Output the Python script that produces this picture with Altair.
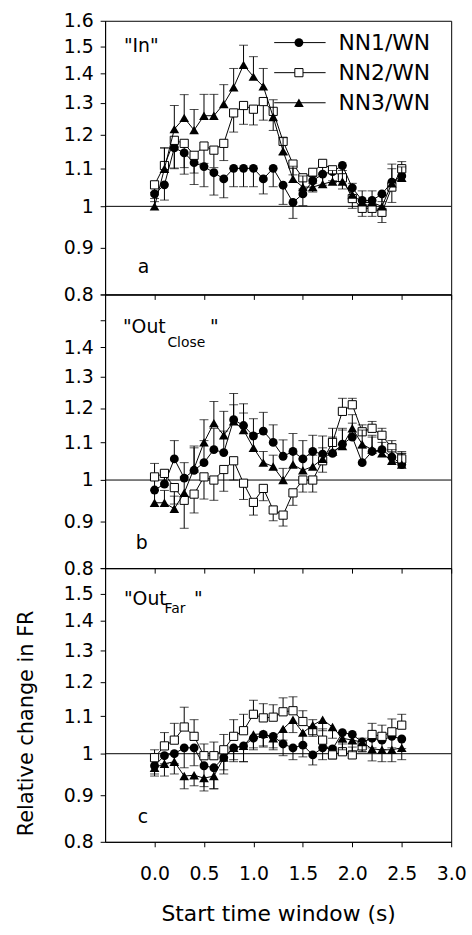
import altair as alt
import pandas as pd

# ---------------- data ----------------
X = [0.0, 0.1, 0.2, 0.3, 0.4, 0.5, 0.6, 0.7, 0.8, 0.9, 1.0, 1.1, 1.2,
     1.3, 1.4, 1.5, 1.6, 1.7, 1.8, 1.9, 2.0, 2.1, 2.2, 2.3, 2.4, 2.5]

SERIES = ["NN1/WN", "NN2/WN", "NN3/WN"]

# panel a  "In"
a_nn1 = [1.032, 1.056, 1.160, 1.145, 1.117, 1.106, 1.089, 1.072, 1.101, 1.101, 1.101, 1.072, 1.101,
         1.055, 1.010, 1.032, 1.067, 1.085, 1.092, 1.109, 1.048, 1.015, 1.015, 1.032, 1.063, 1.080]
a_nn2 = [1.056, 1.109, 1.182, 1.173, 1.138, 1.165, 1.153, 1.173, 1.267, 1.291, 1.279, 1.304, 1.272,
         1.179, 1.113, 1.075, 1.090, 1.115, 1.097, 1.075, 1.020, 0.995, 0.995, 0.985, 1.050, 1.100]
a_nn3 = [1.000, 1.100, 1.216, 1.251, 1.213, 1.258, 1.258, 1.296, 1.352, 1.431, 1.389, 1.355, 1.254,
         1.150, 1.072, 1.050, 1.050, 1.058, 1.065, 1.065, 1.030, 1.010, 1.010, 1.000, 1.060, 1.075]
# signed error bars (+ up, - down)
a_e1 = [-0.02, -0.04, -0.06, -0.06, -0.06, -0.055, -0.06, -0.05, -0.05, -0.05, -0.05, -0.04, -0.05,
        -0.05, -0.04, -0.03, -0.03, -0.03, -0.03, -0.03, -0.03, -0.02, -0.02, -0.02, 0.05, 0.02]
a_e2 = [-0.02, 0.05, -0.08, -0.07, -0.05, -0.05, -0.05, -0.05, -0.06, -0.06, -0.05, -0.06, -0.06,
        -0.04, -0.03, -0.03, -0.03, -0.03, -0.03, -0.03, -0.025, -0.02, -0.02, -0.025, -0.04, 0.02]
a_e3 = [0.02, 0.06, 0.075, 0.076, 0.065, 0.07, 0.07, 0.065, 0.066, 0.073, 0.072, 0.063, 0.056,
        0.04, 0.035, 0.03, 0.03, 0.03, 0.03, 0.03, 0.03, 0.03, 0.03, 0.03, 0.04, 0.03]

# panel b  "Out_Close"
b_nn1 = [0.975, 0.990, 1.055, 1.005, 1.025, 1.045, 1.080, 1.072, 1.165, 1.148, 1.118, 1.132, 1.100,
         1.062, 1.075, 1.055, 1.075, 1.068, 1.070, 1.095, 1.115, 1.045, 1.075, 1.080, 1.060, 1.040]
b_nn2 = [1.008, 1.017, 0.981, 0.950, 0.965, 1.008, 1.000, 1.027, 1.050, 0.992, 0.945, 0.979, 0.927,
         0.915, 0.968, 1.000, 1.000, 1.050, 1.100, 1.190, 1.210, 1.130, 1.140, 1.120, 1.085, 1.055]
b_nn3 = [0.944, 0.944, 0.930, 0.968, 1.030, 1.100, 1.155, 1.120, 1.160, 1.135, 1.085, 1.045, 1.035,
         1.000, 1.040, 1.025, 1.035, 1.055, 1.075, 1.090, 1.140, 1.095, 1.080, 1.070, 1.050, 1.040]
b_e1 = [0.03, 0.03, 0.05, 0.04, 0.06, 0.06, 0.06, 0.06, 0.08, 0.065, 0.05, 0.055, 0.05,
        0.045, 0.05, 0.05, 0.045, 0.05, 0.04, 0.04, 0.04, 0.04, 0.04, 0.035, 0.035, 0.03]
b_e2 = [0.035, -0.03, -0.04, -0.065, -0.045, -0.055, -0.05, -0.055, -0.05, -0.04, -0.03, -0.03, -0.025,
        -0.025, -0.03, -0.03, -0.03, -0.03, 0.04, 0.04, 0.02, 0.02, 0.02, 0.02, 0.02, 0.02]
b_e3 = [0.03, 0.03, 0.03, 0.04, 0.06, 0.065, 0.065, 0.07, 0.05, 0.05, 0.04, 0.03, 0.03,
        0.03, 0.03, 0.03, 0.03, 0.03, 0.04, 0.05, 0.04, 0.04, 0.04, 0.03, 0.03, 0.03]

# panel c  "Out_Far"
c_nn1 = [0.970, 0.995, 1.000, 1.015, 1.015, 0.970, 0.965, 0.990, 1.015, 1.020, 1.040, 1.050, 1.045,
         1.025, 1.015, 1.022, 0.997, 1.015, 1.012, 1.055, 1.050, 1.030, 1.040, 1.035, 1.045, 1.038]
c_nn2 = [0.990, 1.020, 1.035, 1.070, 1.045, 0.995, 0.995, 1.010, 1.045, 1.060, 1.105, 1.095, 1.097,
         1.112, 1.115, 1.085, 1.060, 1.035, 0.997, 1.005, 0.997, 1.020, 1.050, 1.045, 1.057, 1.075]
c_nn3 = [0.965, 0.975, 0.980, 0.945, 0.947, 0.940, 0.945, 0.990, 1.015, 1.020, 1.050, 1.052, 1.040,
         1.065, 1.090, 1.055, 1.075, 1.090, 1.070, 1.040, 1.035, 1.030, 1.012, 1.010, 1.010, 1.015]
c_e1 = [-0.02, -0.02, -0.025, -0.05, -0.045, -0.05, -0.05, -0.04, -0.035, -0.04, -0.03, -0.03, -0.03,
        -0.03, -0.03, -0.03, -0.025, -0.03, -0.025, -0.025, -0.025, -0.025, -0.025, -0.025, -0.03, -0.025]
c_e2 = [0.02, 0.035, 0.045, 0.055, 0.045, 0.03, 0.035, 0.04, 0.045, 0.045, 0.04, 0.04, 0.035,
        0.04, 0.04, 0.03, 0.03, 0.03, 0.02, 0.02, 0.02, 0.02, 0.03, 0.03, 0.035, 0.03]
c_e3 = [-0.02, -0.03, -0.03, -0.03, -0.025, -0.03, -0.03, -0.03, -0.03, -0.04, -0.035, -0.035, -0.03,
        -0.03, -0.035, -0.03, -0.03, -0.03, -0.03, -0.03, -0.03, -0.025, -0.03, -0.03, -0.03, -0.03]

VALUES = {"a": [a_nn1, a_nn2, a_nn3], "b": [b_nn1, b_nn2, b_nn3], "c": [c_nn1, c_nn2, c_nn3]}
ERRS = {"a": [a_e1, a_e2, a_e3], "b": [b_e1, b_e2, b_e3], "c": [c_e1, c_e2, c_e3]}

Y_TICKS = [0.8, 0.9, 1.0, 1.1, 1.2, 1.3, 1.4, 1.5, 1.6]
X_TICKS = [0.0, 0.5, 1.0, 1.5, 2.0, 2.5, 3.0]

FONT = "DejaVu Sans"
W, H = 349, 276

rows = []
for p in ["a", "b", "c"]:
    for s, vals, errs in zip(SERIES, VALUES[p], ERRS[p]):
        for x, v, e in zip(X, vals, errs):
            rows.append(dict(panel=p, series=s, x=x, y=v, yend=v + e))
df = pd.DataFrame(rows)

xs = alt.Scale(domain=[-0.5, 3.0], nice=False, zero=False)
ys = alt.Scale(type="log", domain=[0.8, 1.6], nice=False)

LABEL_EXPR = {
    "a": "datum.value == 1 ? '1' : format(datum.value, '.1f')",
    "b": "datum.value > 1.45 ? '' : (datum.value == 1 ? '1' : format(datum.value, '.1f'))",
    "c": "datum.value > 1.55 ? '' : (datum.value == 1 ? '1' : format(datum.value, '.1f'))",
}


def make_panel(p):
    bottom = p == "c"
    xaxis = alt.Axis(values=X_TICKS, labels=bottom, format=".1f", tickSize=5,
                     labelPadding=18, labelFontSize=19, labelFlush=False,
                     title="Start time window (s)" if bottom else None,
                     titleFontSize=22, titleFontWeight="normal", titlePadding=20,
                     grid=False)
    yargs = dict(values=Y_TICKS, labelExpr=LABEL_EXPR[p], tickSize=5, labelPadding=7,
                 labelFontSize=19, labelOverlap=False, labelFlush=False, grid=False)
    if bottom:
        yaxis = alt.Axis(title="Relative change in FR", titleFontSize=21,
                         titleFontWeight="normal", titleAngle=270, titleX=-79, titleY=156,
                         titleAlign="center", titleBaseline="middle", **yargs)
    else:
        yaxis = alt.Axis(title=None, **yargs)

    def X_(f="x"):
        return alt.X(f"{f}:Q", scale=xs, axis=xaxis)

    def Y_(f="y"):
        return alt.Y(f"{f}:Q", scale=ys, axis=yaxis)

    d = df[df.panel == p]
    layers = []
    ref = alt.Chart(pd.DataFrame({"y": [1.0]})).mark_rule(color="black", strokeWidth=1).encode(y=Y_())
    layers.append(ref)

    mk = {
        "NN1/WN": lambda c: c.mark_point(shape="circle", filled=True, color="black", size=80, opacity=1),
        "NN2/WN": lambda c: c.mark_point(shape="square", filled=True, fill="white", stroke="black",
                                         strokeWidth=1, size=68, opacity=1),
        "NN3/WN": lambda c: c.mark_point(shape="triangle-up", filled=True, color="black", size=95, opacity=1),
    }
    for s in SERIES:
        ds = d[d.series == s]
        base = alt.Chart(ds)
        layers.append(base.mark_rule(color="black", strokeWidth=1).encode(x=X_(), y=Y_(), y2="yend:Q"))
        layers.append(base.mark_tick(orient="horizontal", color="black", size=9, thickness=1)
                      .encode(x=X_(), y=Y_("yend")))
        layers.append(base.mark_line(color="black", strokeWidth=1).encode(x=X_(), y=Y_()))
        layers.append(mk[s](base).encode(x=X_(), y=Y_()))

    # panel annotations
    if p == "a":
        big = pd.DataFrame({"x": [-0.31], "y": [1.477], "t": ['"In"']})
        small = None
        letter = pd.DataFrame({"x": [-0.17], "y": [0.845], "t": ["a"]})
    elif p == "b":
        big = pd.DataFrame({"x": [-0.32, 0.56], "y": [1.451, 1.451], "t": ['"Out', '"']})
        small = pd.DataFrame({"x": [0.13], "y": [1.40], "t": ["Close"]})
        letter = pd.DataFrame({"x": [-0.19], "y": [0.84], "t": ["b"]})
    else:
        big = pd.DataFrame({"x": [-0.31, 0.40], "y": [1.458, 1.458], "t": ['"Out', '"']})
        small = pd.DataFrame({"x": [0.10], "y": [1.427], "t": ["Far"]})
        letter = pd.DataFrame({"x": [-0.17], "y": [0.84], "t": ["c"]})

    txt = dict(align="left", baseline="alphabetic", color="black", font=FONT)
    layers.append(alt.Chart(big).mark_text(fontSize=19, **txt).encode(x=X_(), y=Y_(), text="t:N"))
    layers.append(alt.Chart(letter).mark_text(fontSize=19, **txt).encode(x=X_(), y=Y_(), text="t:N"))
    if small is not None:
        layers.append(alt.Chart(small).mark_text(fontSize=14, **txt).encode(x=X_(), y=Y_(), text="t:N"))

    if p == "a":
        leg = pd.DataFrame({"series": SERIES, "y": [1.514, 1.403, 1.300],
                            "x1": [1.21] * 3, "x2": [1.73] * 3, "xm": [1.46] * 3, "xt": [1.86] * 3})
        layers.append(alt.Chart(leg).mark_rule(color="black", strokeWidth=1)
                      .encode(x=X_("x1"), x2="x2:Q", y=Y_()))
        for s in SERIES:
            layers.append(mk[s](alt.Chart(leg[leg.series == s])).encode(x=X_("xm"), y=Y_()))
        layers.append(alt.Chart(leg).mark_text(fontSize=22, align="left", baseline="middle",
                                               color="black", font=FONT)
                      .encode(x=X_("xt"), y=Y_(), text="series:N"))

    return alt.layer(*layers).properties(width=W, height=H)


chart = alt.vconcat(make_panel("a"), make_panel("b"), make_panel("c"),
                    spacing=0, bounds="flush").properties(
    padding={"left": 15, "top": 7, "right": 5, "bottom": 5},
    background="white",
).configure_view(stroke="black", strokeWidth=1).configure_axis(
    domainColor="black", tickColor="black", labelColor="black", titleColor="black",
    labelFont=FONT, titleFont=FONT,
).configure_text(font=FONT)

chart.save("out.html", embed_options={"renderer": "svg", "actions": False})
